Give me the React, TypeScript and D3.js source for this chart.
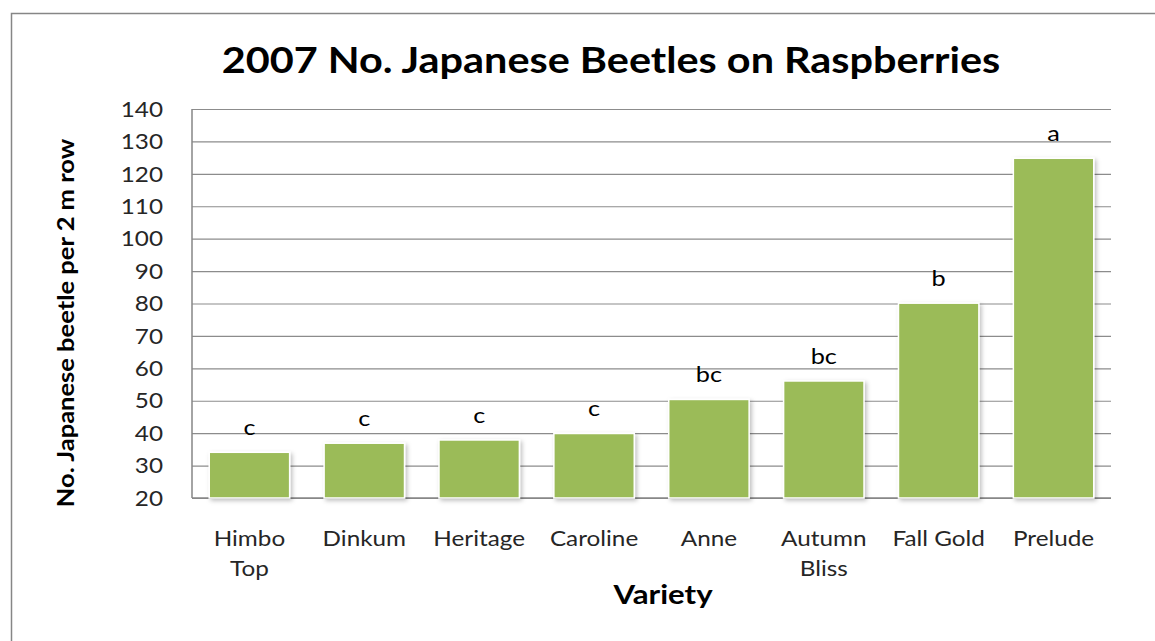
import { useEffect, useRef } from 'react';
import * as d3 from 'd3';

const varieties = ['Himbo Top', 'Dinkum', 'Heritage', 'Caroline', 'Anne', 'Autumn Bliss', 'Fall Gold', 'Prelude'];
const varietyLines = [['Himbo', 'Top'], ['Dinkum'], ['Heritage'], ['Caroline'], ['Anne'], ['Autumn', 'Bliss'], ['Fall Gold'], ['Prelude']];
const beetles = [34.1, 36.9, 37.9, 39.9, 50.4, 56.1, 80.1, 124.8];
const groups = ['c', 'c', 'c', 'c', 'bc', 'bc', 'b', 'a'];
const yTicks = [20, 30, 40, 50, 60, 70, 80, 90, 100, 110, 120, 130, 140];

const FONT = 'Lato, "Open Sans", sans-serif';
// the reference text is a little wider than Lato, so labels get a horizontal stretch
const SX = 1.13;

export default function App() {
  const svgRef = useRef<SVGSVGElement>(null);

  useEffect(() => {
    if (!svgRef.current) return;
    const svg = d3.select(svgRef.current);
    svg.selectAll('*').remove();

    const W = 1155;
    const H = 641;
    const margin = { top: 109, right: 44, bottom: 143, left: 192 };
    const width = W - margin.left - margin.right;
    const height = H - margin.top - margin.bottom;

    // outer chart border (only top/left visible in the crop)
    svg.append('rect')
      .attr('x', 11.5).attr('y', 13.5)
      .attr('width', W + 20).attr('height', H + 20)
      .attr('fill', 'white')
      .attr('stroke', '#868686')
      .attr('stroke-width', 1.5);

    const defs = svg.append('defs');
    const filter = defs.append('filter').attr('id', 'barShadow')
      .attr('x', '-10%').attr('y', '-10%').attr('width', '130%').attr('height', '130%');
    filter.append('feDropShadow')
      .attr('dx', 2).attr('dy', 2).attr('stdDeviation', 2)
      .attr('flood-color', '#000').attr('flood-opacity', 0.25);

    const label = (parent: d3.Selection<any, any, any, any>, tx: number, ty: number, text: string,
      size: number, opts: { bold?: boolean; anchor?: string; sx?: number; rotate?: number; fill?: string; dy?: string } = {}) => {
      const rot = opts.rotate ? ` rotate(${opts.rotate})` : '';
      return parent.append('text')
        .attr('transform', `translate(${tx},${ty})${rot} scale(${opts.sx ?? SX},1)`)
        .attr('text-anchor', opts.anchor ?? 'middle')
        .attr('dy', opts.dy ?? null)
        .style('font-family', FONT)
        .style('font-weight', opts.bold ? 'bold' : 'normal')
        .style('font-size', `${size}px`)
        .style('fill', opts.fill ?? '#000')
        .text(text);
    };

    label(svg, 611, 73, '2007 No. Japanese Beetles on Raspberries', 36, { bold: true, sx: 1.15 });

    const g = svg.append('g').attr('transform', `translate(${margin.left},${margin.top})`);

    const x = d3.scaleBand().domain(varieties).range([0, width]).paddingInner(0.3).paddingOuter(0.15);
    const y = d3.scaleLinear().domain([20, 140]).range([height, 0]);

    // gridlines
    g.append('g')
      .call(d3.axisLeft(y).tickValues(yTicks).tickSize(-width).tickFormat(() => ''))
      .call(s => s.select('.domain').remove())
      .call(s => s.selectAll('line').attr('stroke', '#8c8c8c').attr('stroke-width', 1.2));

    // y axis line
    g.append('line')
      .attr('x1', 0).attr('x2', 0)
      .attr('y1', 0).attr('y2', height)
      .attr('stroke', '#868686').attr('stroke-width', 1.5);

    // y tick labels
    yTicks.forEach(t => {
      label(g, -29, y(t), String(t), 21.5, { anchor: 'end', dy: '0.36em', fill: '#262626' });
    });

    // bottom axis line
    g.append('line')
      .attr('x1', 0).attr('x2', width)
      .attr('y1', height).attr('y2', height)
      .attr('stroke', '#868686').attr('stroke-width', 1.5);

    // bars
    g.selectAll('rect.bar')
      .data(beetles)
      .join('rect')
      .attr('class', 'bar')
      .attr('x', (_, i) => x(varieties[i]) || 0)
      .attr('y', d => y(d))
      .attr('width', x.bandwidth())
      .attr('height', d => y(20) - y(d))
      .attr('fill', '#9bbb59')
      .attr('stroke', '#ffffff')
      .attr('stroke-width', 1.5)
      .attr('filter', 'url(#barShadow)');

    // significance letters
    groups.forEach((grp, i) => {
      label(g, (x(varieties[i]) || 0) + x.bandwidth() / 2, y(beetles[i]) - 17, grp, 22, { sx: 1.15 });
    });

    // category labels
    varietyLines.forEach((lines, i) => {
      const cx = (x(varieties[i]) || 0) + x.bandwidth() / 2;
      lines.forEach((t, j) => {
        label(g, cx, height + 48 + j * 29.5, t, 21.5, { fill: '#262626' });
      });
    });

    // axis titles
    label(svg, 663, 604, 'Variety', 26, { bold: true, sx: 1.2 });
    label(svg, 74, 323, 'No. Japanese beetle per 2 m row', 22, { bold: true, sx: 1.16, rotate: -90 });
  }, []);

  return (
    <svg
      ref={svgRef}
      width={1155}
      height={641}
      style={{ position: 'absolute', left: 0, top: 0, display: 'block', background: '#fff' }}
    />
  );
}
